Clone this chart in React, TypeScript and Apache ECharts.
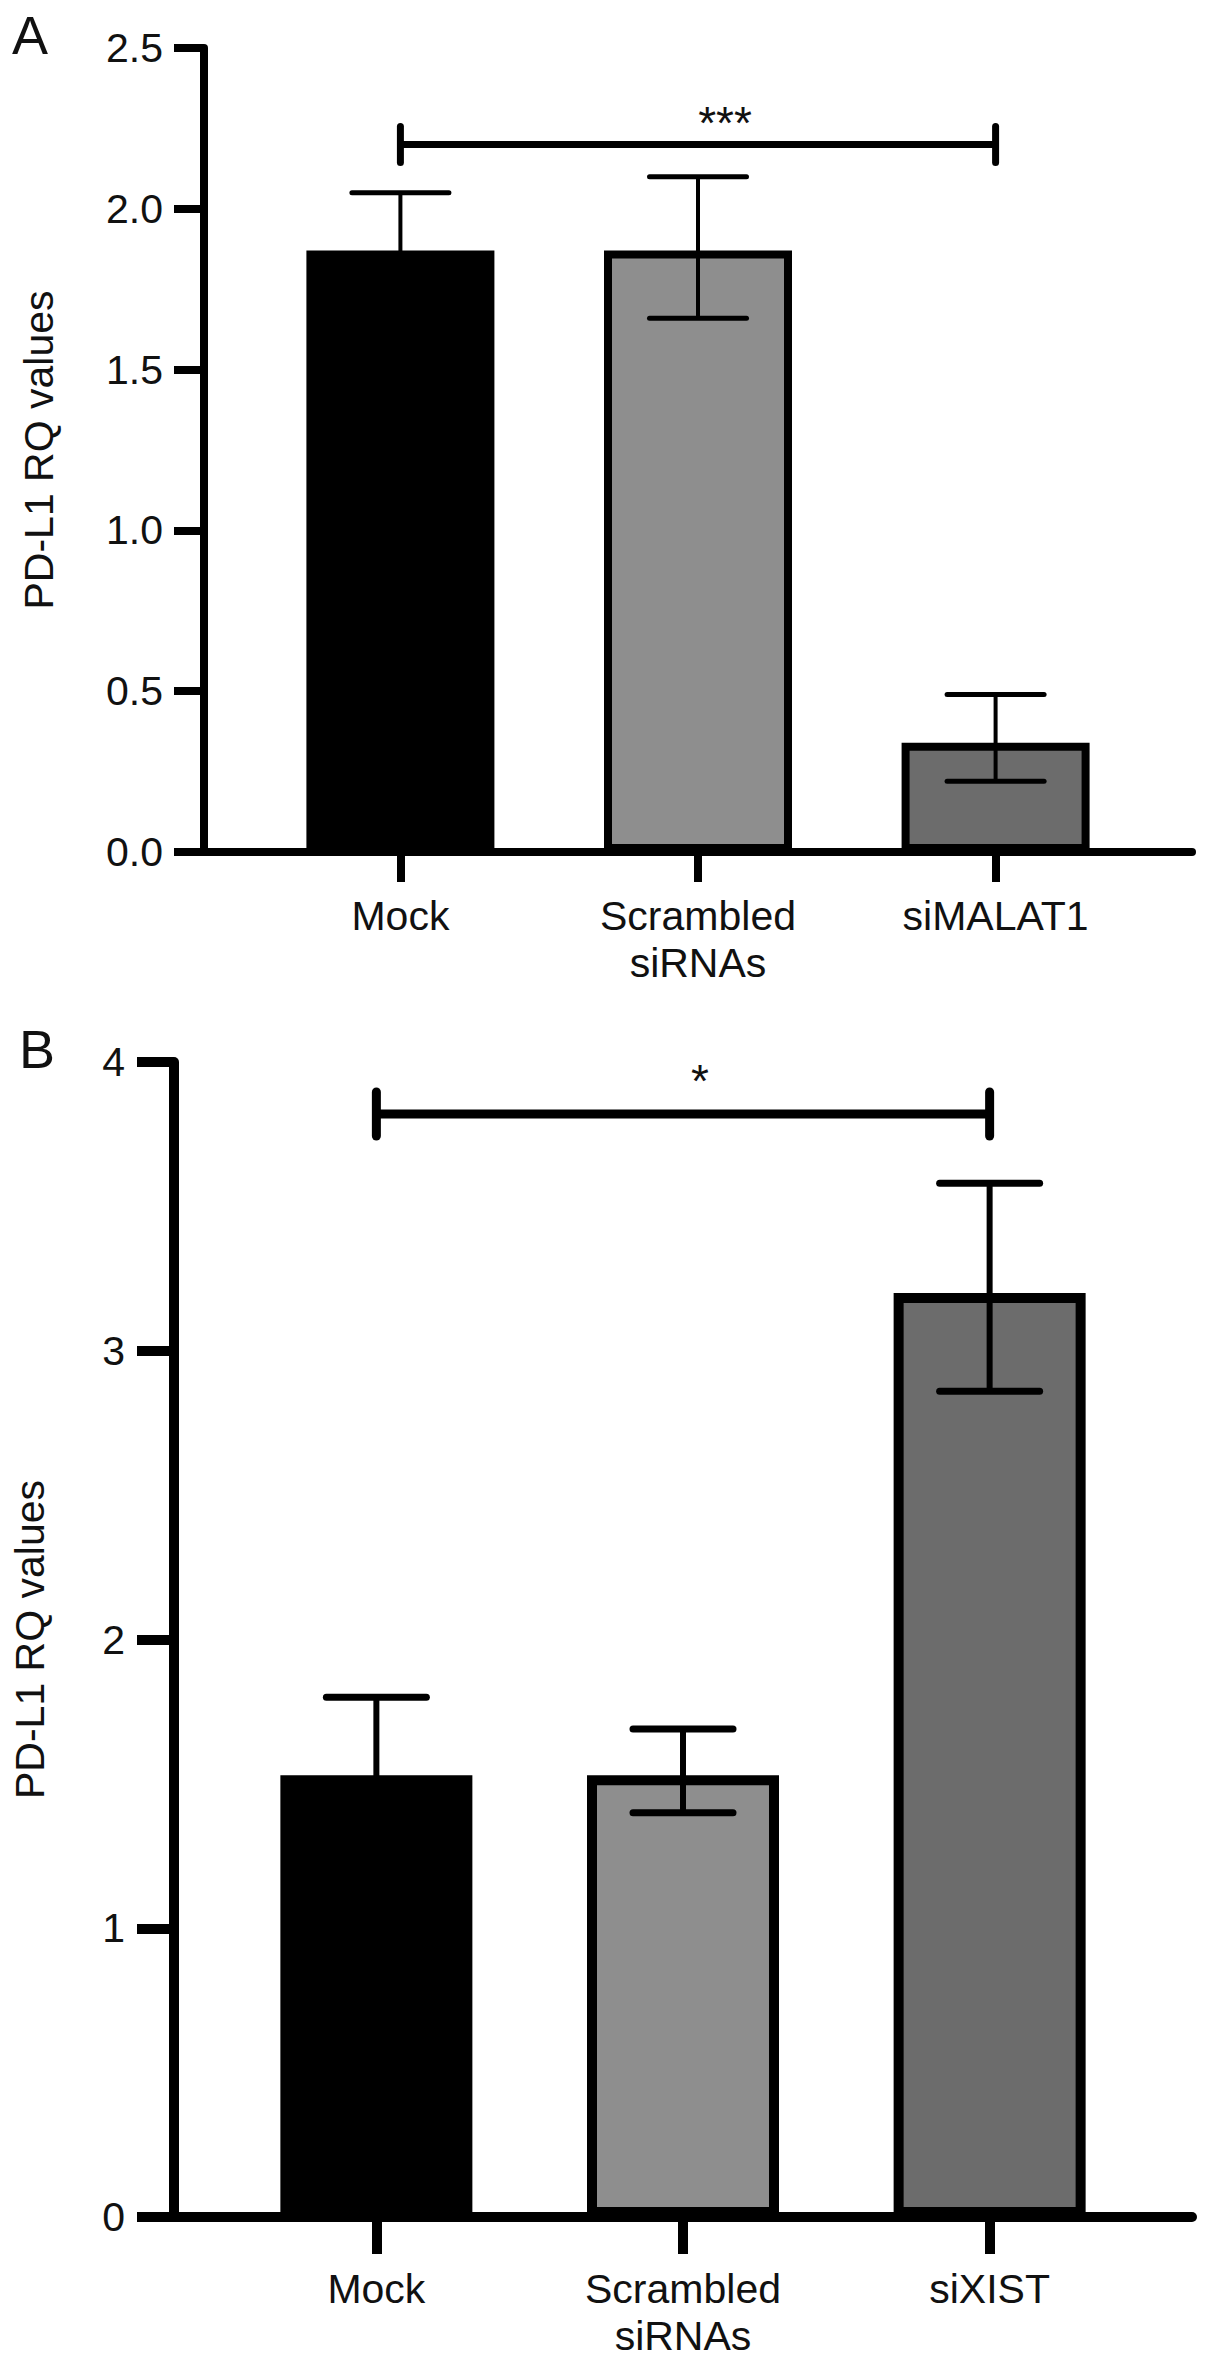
import React, { useEffect, useRef } from "react";
import * as echarts from "echarts";

// ---------- data ----------
const categoriesA = ["Mock", "Scrambled\nsiRNAs", "siMALAT1"];
const categoriesB = ["Mock", "Scrambled\nsiRNAs", "siXIST"];
const meanA = [1.87, 1.87, 0.34];
const errHighA = [2.05, 2.1, 0.49];
const errLowA = [1.69, 1.66, 0.22];
const meanB = [1.53, 1.53, 3.2];
const errHighB = [1.8, 1.69, 3.58];
const errLowB = [1.26, 1.4, 2.86];
const barColors = ["#000000", "#8e8e8e", "#6c6c6c"];
const sigA = [0, 2, 2.2];
const sigLabelA = "***";
const sigB = [0, 2, 3.82];
const sigLabelB = "*";
const yMaxA = 2.5;
const yStepA = 0.5;
const yMaxB = 4;
const yStepB = 1;
const yTitle = "PD-L1 RQ values";
const panelLabels = ["A", "B"];

const FONT = "'Liberation Sans', Arial, Helvetica, sans-serif";

type PanelCfg = {
  idx: number;
  lw: number;
  tickLen: number;
  yLabelMargin: number;
  xLabelMargin: number;
  nameGap: number;
  barWidth: number;
  border: number;
  capW: number;
  capLW: number;
  stemLW: number;
  sigCapH: number;
  sigLW: number;
  sigDx: number;
  sigDy: number;
};

function buildPanel(
  cfg: PanelCfg,
  cats: string[],
  mean: number[],
  lo: number[],
  hi: number[],
  sig: number[],
  sigLabel: string,
  yMax: number,
  yStep: number,
  decimals: number
) {
  const i = cfg.idx;
  const xAxis = {
    type: "value",
    gridIndex: i,
    min: -0.66,
    max: 2.66,
    splitLine: { show: false },
    axisLine: { show: true, onZero: false, lineStyle: { color: "#000", width: cfg.lw } },
    axisTick: {
      show: true,
      length: cfg.tickLen,
      customValues: [0, 1, 2],
      lineStyle: { color: "#000", width: cfg.lw },
    },
    axisLabel: {
      customValues: [0, 1, 2],
      formatter: (v: number) => cats[Math.round(v)] ?? "",
      margin: cfg.xLabelMargin,
      fontFamily: FONT,
      fontSize: 41,
      lineHeight: 47,
      color: "#111",
    },
  };
  const yAxis = {
    type: "value",
    gridIndex: i,
    min: 0,
    max: yMax,
    interval: yStep,
    splitLine: { show: false },
    name: yTitle,
    nameLocation: "middle",
    nameRotate: 90,
    nameGap: cfg.nameGap,
    nameTextStyle: { fontFamily: FONT, fontSize: 41, color: "#111" },
    axisLine: { show: true, onZero: false, lineStyle: { color: "#000", width: cfg.lw } },
    axisTick: {
      show: true,
      length: cfg.tickLen,
      lineStyle: { color: "#000", width: cfg.lw },
    },
    axisLabel: {
      margin: cfg.yLabelMargin,
      fontFamily: FONT,
      fontSize: 41,
      color: "#111",
      formatter: (v: number) => v.toFixed(decimals),
    },
  };
  const series: any[] = [
    {
      type: "bar",
      xAxisIndex: i,
      yAxisIndex: i,
      barWidth: cfg.barWidth,
      data: mean.map((m, k) => ({
        value: [k, m],
        itemStyle: {
          color: barColors[k],
          borderColor: "#000",
          borderWidth: cfg.border,
        },
      })),
      z: 2,
    },
    {
      type: "custom",
      xAxisIndex: i,
      yAxisIndex: i,
      z: 5,
      data: mean.map((_, k) => [k, lo[k], hi[k]]),
      encode: { x: 0, y: [1, 2] },
      renderItem: (params: any, api: any) => {
        const x = api.value(0);
        const pHi = api.coord([x, api.value(2)]);
        const pLo = api.coord([x, api.value(1)]);
        const hw = cfg.capW / 2;
        return {
          type: "group",
          children: [
            {
              type: "line",
              shape: { x1: pHi[0], y1: pHi[1], x2: pLo[0], y2: pLo[1] },
              style: { stroke: "#000", lineWidth: cfg.stemLW },
            },
            {
              type: "line",
              shape: { x1: pHi[0] - hw, y1: pHi[1], x2: pHi[0] + hw, y2: pHi[1] },
              style: { stroke: "#000", lineWidth: cfg.capLW, lineCap: "round" },
            },
            {
              type: "line",
              shape: { x1: pLo[0] - hw, y1: pLo[1], x2: pLo[0] + hw, y2: pLo[1] },
              style: { stroke: "#000", lineWidth: cfg.capLW, lineCap: "round" },
            },
          ],
        };
      },
    },
    {
      type: "custom",
      xAxisIndex: i,
      yAxisIndex: i,
      z: 6,
      data: [sig],
      encode: { x: [0, 1], y: 2 },
      renderItem: (params: any, api: any) => {
        const y = api.value(2);
        const p1 = api.coord([api.value(0), y]);
        const p2 = api.coord([api.value(1), y]);
        const h = cfg.sigCapH;
        return {
          type: "group",
          children: [
            {
              type: "line",
              shape: { x1: p1[0], y1: p1[1], x2: p2[0], y2: p2[1] },
              style: { stroke: "#000", lineWidth: cfg.sigLW },
            },
            {
              type: "line",
              shape: { x1: p1[0], y1: p1[1] - h, x2: p1[0], y2: p1[1] + h },
              style: { stroke: "#000", lineWidth: cfg.sigLW, lineCap: "round" },
            },
            {
              type: "line",
              shape: { x1: p2[0], y1: p2[1] - h, x2: p2[0], y2: p2[1] + h },
              style: { stroke: "#000", lineWidth: cfg.sigLW, lineCap: "round" },
            },
            {
              type: "text",
              style: {
                text: sigLabel,
                x: (p1[0] + p2[0]) / 2 + cfg.sigDx,
                y: p1[1] - cfg.sigDy,
                textAlign: "center",
                textVerticalAlign: "middle",
                fontFamily: FONT,
                fontSize: 46,
                fill: "#111",
              },
            },
          ],
        };
      },
    },
  ];
  return { xAxis, yAxis, series };
}

export default function App() {
  const ref = useRef<HTMLDivElement>(null);
  useEffect(() => {
    if (!ref.current) return;
    const chart = echarts.init(ref.current, undefined, { renderer: "svg" });
    const cfgA: PanelCfg = {
      idx: 0,
      lw: 8,
      tickLen: 30,
      yLabelMargin: 41,
      xLabelMargin: 40,
      nameGap: 145,
      barWidth: 188,
      border: 8,
      capW: 97,
      capLW: 5,
      stemLW: 4,
      sigCapH: 18,
      sigLW: 7,
      sigDx: 27,
      sigDy: 21,
    };
    const cfgB: PanelCfg = {
      idx: 1,
      lw: 10,
      tickLen: 37,
      yLabelMargin: 49,
      xLabelMargin: 48,
      nameGap: 124,
      barWidth: 192,
      border: 10,
      capW: 100,
      capLW: 7,
      stemLW: 6,
      sigCapH: 22,
      sigLW: 9,
      sigDx: 17,
      sigDy: 33,
    };
    const a = buildPanel(cfgA, categoriesA, meanA, errLowA, errHighA, sigA, sigLabelA, yMaxA, yStepA, 1);
    const b = buildPanel(cfgB, categoriesB, meanB, errLowB, errHighB, sigB, sigLabelB, yMaxB, yStepB, 0);
    chart.setOption({
      animation: false,
      backgroundColor: "#ffffff",
      grid: [
        { left: 204, top: 48, width: 988, height: 804 },
        { left: 174, top: 1062, width: 1018, height: 1155 },
      ],
      xAxis: [a.xAxis, b.xAxis],
      yAxis: [a.yAxis, b.yAxis],
      series: [...a.series, ...b.series],
      graphic: [
        {
          type: "text",
          left: 12,
          top: 8,
          style: { text: panelLabels[0], fontFamily: FONT, fontSize: 54, fill: "#111" },
        },
        {
          type: "text",
          left: 19,
          top: 1022,
          style: { text: panelLabels[1], fontFamily: FONT, fontSize: 54, fill: "#111" },
        },
      ],
    });
    return () => chart.dispose();
  }, []);
  return (
    <div
      ref={ref}
      style={{ position: "absolute", left: 0, top: 0, width: 1205, height: 2361, background: "#fff" }}
    />
  );
}
